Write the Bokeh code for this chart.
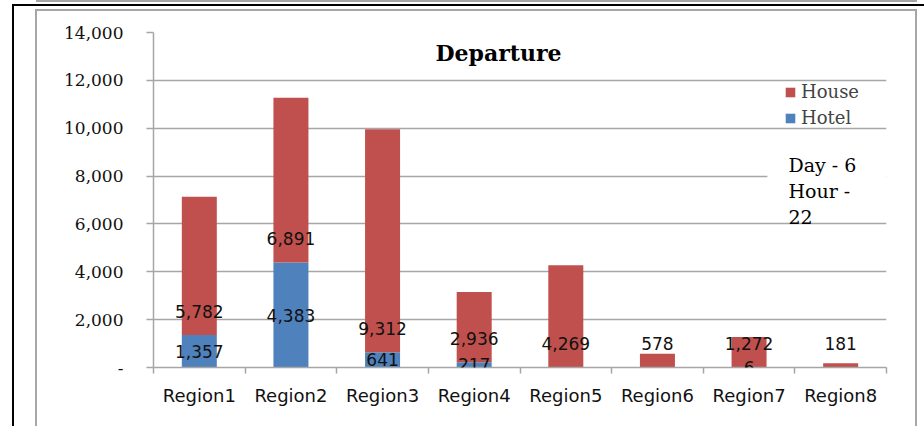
from bokeh.plotting import figure
from bokeh.models import (Range1d, FixedTicker, NumeralTickFormatter, ColumnDataSource,
                          LabelSet, Label, Legend, LegendItem, BoxAnnotation)
from bokeh.core.properties import value
from bokeh.embed import file_html
from bokeh.resources import INLINE

# ---- data ----
regions = ["Region1", "Region2", "Region3", "Region4", "Region5", "Region6", "Region7", "Region8"]
hotel = [1357, 4383, 641, 217, 0, 0, 6, 0]
house = [5782, 6891, 9312, 2936, 4269, 578, 1272, 181]
y_ticks = [0, 2000, 4000, 6000, 8000, 10000, 12000, 14000]
chart_title = "Departure"
note_lines = ["Day - 6", "Hour -", "22"]

HOUSE_C = "#C0504D"
HOTEL_C = "#4F81BD"
GRID_C = "#a6a6a6"


def fmt(v):
    return "-" if v == 0 else f"{v:,}"


xs = list(range(1, len(regions) + 1))
src = ColumnDataSource(dict(
    x=xs,
    hotel=hotel,
    house=house,
    total=[a + b for a, b in zip(hotel, house)],
    hotel_mid=[h / 2 for h in hotel],
    hotel_lbl=[fmt(v) for v in hotel],
    house_lbl=[fmt(v) for v in house],
))

p = figure(width=924, height=426,
           x_range=Range1d(0.5, len(regions) + 0.5), y_range=Range1d(0, 14000),
           output_backend="svg", toolbar_location=None,
           min_border_left=153, min_border_right=38, min_border_top=32, min_border_bottom=59)
p.outline_line_color = None
p.background_fill_color = "white"
p.border_fill_color = None

# frame decorations of the surrounding sheet (CSS background of the host element)
g = GRID_C
p.styles = {
    "background": ", ".join([
        "linear-gradient(#000,#000) 12px 4px / 2px 422px no-repeat",
        "linear-gradient(#000,#000) 12px 4px / 912px 2px no-repeat",
        f"linear-gradient({g},{g}) 35px 9px / 2px 417px no-repeat",
        f"linear-gradient({g},{g}) 35px 9px / 882px 2px no-repeat",
        f"linear-gradient({g},{g}) 915px 9px / 2px 417px no-repeat",
        f"linear-gradient({g},{g}) 36px 0px / 881px 2px no-repeat",
        "#ffffff",
    ])
}

r_hotel = p.vbar(x="x", bottom=0, top="hotel", width=0.382, source=src,
                 fill_color=HOTEL_C, line_color=None)
r_house = p.vbar(x="x", bottom="hotel", top="total", width=0.382, source=src,
                 fill_color=HOUSE_C, line_color=None)

# grid
p.xgrid.visible = False
p.ygrid.ticker = FixedTicker(ticks=y_ticks)
p.ygrid.grid_line_color = GRID_C
p.ygrid.grid_line_width = 1.5

# y axis
yax = p.yaxis[0]
yax.ticker = FixedTicker(ticks=y_ticks)
yax.formatter = NumeralTickFormatter(format="0,0")
yax.major_label_overrides = {0: "-"}
yax.major_tick_out = 7
yax.major_tick_in = 0
yax.minor_tick_line_color = None
yax.axis_line_color = GRID_C
yax.axis_line_width = 1.5
yax.major_tick_line_color = GRID_C
yax.major_tick_line_width = 1.5
yax.major_label_text_font = "DejaVu Serif"
yax.major_label_text_font_size = "17px"
yax.major_label_text_color = "#111111"
yax.major_label_standoff = 23

# x axis
xax = p.xaxis[0]
xax.ticker = FixedTicker(ticks=xs, minor_ticks=[i + 0.5 for i in range(len(regions) + 1)])
xax.major_label_overrides = {i: name for i, name in zip(xs, regions)}
xax.major_tick_line_color = None
xax.major_tick_out = 0
xax.major_tick_in = 0
xax.minor_tick_out = 6
xax.minor_tick_in = 0
xax.minor_tick_line_color = GRID_C
xax.minor_tick_line_width = 1.5
xax.axis_line_color = GRID_C
xax.axis_line_width = 1.5
xax.major_label_text_font = "DejaVu Sans"
xax.major_label_text_font_size = "18px"
xax.major_label_text_color = "#111111"
xax.major_label_standoff = 11

# data labels
p.add_layout(LabelSet(x="x", y="hotel_mid", text="hotel_lbl", source=src,
                      text_align="center", text_baseline="middle",
                      text_font=value("DejaVu Sans"), text_font_size=value("17px"),
                      text_color="#111111"))
p.add_layout(LabelSet(x="x", y="hotel", y_offset=24, text="house_lbl", source=src,
                      text_align="center", text_baseline="middle",
                      text_font=value("DejaVu Sans"), text_font_size=value("17px"),
                      text_color="#111111"))

# title inside the plot area
p.add_layout(Label(x=4.265, y=13164, text=chart_title, text_align="center", text_baseline="middle",
                   text_font="DejaVu Serif", text_font_style="bold", text_font_size="22px",
                   text_color="black"))

# white box behind the note
p.add_layout(BoxAnnotation(left=7.2, bottom=6600, top=9300, fill_color="white", fill_alpha=1,
                           line_color=None))
for line, yv in zip(note_lines, [8442, 7397, 6310]):
    p.add_layout(Label(x=7.43, y=yv, text=line, text_align="left", text_baseline="middle",
                       text_font="DejaVu Serif", text_font_size="19px", text_color="black"))

# legend
legend = Legend(items=[LegendItem(label="House", renderers=[r_house]),
                       LegendItem(label="Hotel", renderers=[r_hotel])],
                location=(631, 239), glyph_width=12, glyph_height=12, label_height=20,
                label_text_font="DejaVu Serif", label_text_font_size="18px",
                spacing=5, padding=0, margin=0, border_line_color=None,
                background_fill_alpha=0, label_standoff=5)
p.add_layout(legend)

open("out.html", "w").write(file_html(p, INLINE))
